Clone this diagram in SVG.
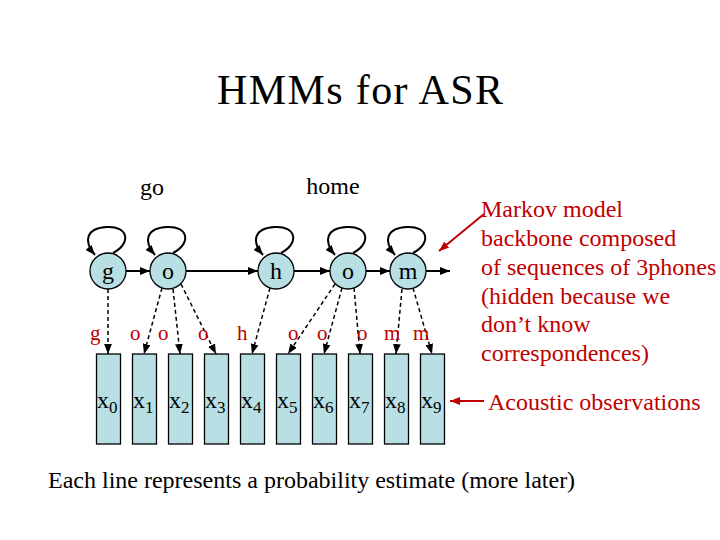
<svg xmlns="http://www.w3.org/2000/svg" width="720" height="540" viewBox="0 0 720 540">
<defs>
<style>
text{font-family:"Liberation Serif","Times New Roman",serif;}
.st{fill:#b8dfe3;stroke:#000;stroke-width:1.3;}
.ob{fill:#b8dfe3;stroke:#000;stroke-width:1.3;}
.lbl{font-size:24px;fill:#000;text-anchor:middle;}
.red{fill:#c00000;font-size:21px;}
.note{fill:#c00000;font-size:24px;}
.sol{fill:none;stroke:#000;stroke-width:2;marker-end:url(#ah);}
.dash{fill:none;stroke:#000;stroke-width:1.5;stroke-dasharray:4,3;marker-end:url(#ah);}
.rarr{fill:none;stroke:#c00000;stroke-width:2;marker-end:url(#rh);}
.x{font-size:24px;fill:#000;}
.sub{font-size:17px;}
</style>
<marker id="ah" markerUnits="userSpaceOnUse" markerWidth="10" markerHeight="8" viewBox="0 0 9 7" refX="9" refY="3.5" orient="auto"><path d="M0,0 L9,3.5 L0,7 z" fill="#000"/></marker>
<marker id="rh" markerUnits="userSpaceOnUse" markerWidth="10" markerHeight="8" viewBox="0 0 9 7" refX="9" refY="3.5" orient="auto"><path d="M0,0 L9,3.5 L0,7 z" fill="#c00000"/></marker>
<path id="loop" d="M5,-18 C24,-28 20,-45 -1,-44 C-22,-43 -25,-30 -13,-16"/>
</defs>
<rect width="720" height="540" fill="#fff"/>
<text x="360" y="104" font-size="42" text-anchor="middle" textLength="286" lengthAdjust="spacing">HMMs for ASR</text>
<text x="152" y="195" class="lbl">go</text>
<text x="333" y="194" class="lbl">home</text>

<g id="connectors">
<line class="sol" x1="126" y1="271" x2="150" y2="271"/>
<line class="sol" x1="186" y1="271" x2="258" y2="271"/>
<line class="sol" x1="294" y1="271" x2="330" y2="271"/>
<line class="sol" x1="366" y1="271" x2="390" y2="271"/>
<line class="sol" x1="426" y1="271" x2="450" y2="271"/>
<use href="#loop" class="sol" transform="translate(108,271)"/>
<use href="#loop" class="sol" transform="translate(168,271)"/>
<use href="#loop" class="sol" transform="translate(276,271)"/>
<use href="#loop" class="sol" transform="translate(348,271)"/>
<use href="#loop" class="sol" transform="translate(408,271)"/>
<line class="dash" x1="108" y1="289" x2="108" y2="354"/>
<line class="dash" x1="162" y1="288" x2="144" y2="354"/>
<line class="dash" x1="173" y1="289" x2="180" y2="354"/>
<line class="dash" x1="181" y1="284" x2="216" y2="354"/>
<line class="dash" x1="270" y1="288" x2="252" y2="354"/>
<line class="dash" x1="335" y1="284" x2="288" y2="354"/>
<line class="dash" x1="342" y1="288" x2="324" y2="354"/>
<line class="dash" x1="354" y1="288" x2="360" y2="354"/>
<line class="dash" x1="402" y1="289" x2="396" y2="354"/>
<line class="dash" x1="413" y1="288" x2="432" y2="354"/>
<line class="rarr" x1="484" y1="214" x2="439" y2="251"/>
<line class="rarr" x1="484" y1="401" x2="450" y2="401"/>
</g>

<g id="state-g"><circle class="st" cx="108" cy="271" r="18"/><text x="108" y="279" class="lbl">g</text></g>
<g id="state-o1"><circle class="st" cx="168" cy="271" r="18"/><text x="168" y="279" class="lbl">o</text></g>
<g id="state-h"><circle class="st" cx="276" cy="271" r="18"/><text x="276" y="279" class="lbl">h</text></g>
<g id="state-o2"><circle class="st" cx="348" cy="271" r="18"/><text x="348" y="279" class="lbl">o</text></g>
<g id="state-m"><circle class="st" cx="408" cy="271" r="18"/><text x="408" y="279" class="lbl">m</text></g>

<g id="phone-labels">
<text class="red" x="90" y="340">g</text>
<text class="red" x="130" y="340">o</text>
<text class="red" x="158" y="340">o</text>
<text class="red" x="198" y="340">o</text>
<text class="red" x="237" y="340">h</text>
<text class="red" x="288" y="340">o</text>
<text class="red" x="317" y="340">o</text>
<text class="red" x="357" y="340">o</text>
<text class="red" x="384" y="340">m</text>
<text class="red" x="413" y="340">m</text>
</g>

<g id="obs-x0"><rect class="ob" x="96.5" y="354" width="24" height="90"/><text class="x" x="97" y="408">x<tspan class="sub" dy="5">0</tspan></text></g>
<g id="obs-x1"><rect class="ob" x="132.5" y="354" width="24" height="90"/><text class="x" x="133" y="408">x<tspan class="sub" dy="5">1</tspan></text></g>
<g id="obs-x2"><rect class="ob" x="168.5" y="354" width="24" height="90"/><text class="x" x="169" y="408">x<tspan class="sub" dy="5">2</tspan></text></g>
<g id="obs-x3"><rect class="ob" x="204.5" y="354" width="24" height="90"/><text class="x" x="205" y="408">x<tspan class="sub" dy="5">3</tspan></text></g>
<g id="obs-x4"><rect class="ob" x="240.5" y="354" width="24" height="90"/><text class="x" x="241" y="408">x<tspan class="sub" dy="5">4</tspan></text></g>
<g id="obs-x5"><rect class="ob" x="276.5" y="354" width="24" height="90"/><text class="x" x="277" y="408">x<tspan class="sub" dy="5">5</tspan></text></g>
<g id="obs-x6"><rect class="ob" x="312.5" y="354" width="24" height="90"/><text class="x" x="313" y="408">x<tspan class="sub" dy="5">6</tspan></text></g>
<g id="obs-x7"><rect class="ob" x="348.5" y="354" width="24" height="90"/><text class="x" x="349" y="408">x<tspan class="sub" dy="5">7</tspan></text></g>
<g id="obs-x8"><rect class="ob" x="384.5" y="354" width="24" height="90"/><text class="x" x="385" y="408">x<tspan class="sub" dy="5">8</tspan></text></g>
<g id="obs-x9"><rect class="ob" x="420.5" y="354" width="24" height="90"/><text class="x" x="421" y="408">x<tspan class="sub" dy="5">9</tspan></text></g>

<g id="note-markov">
<text class="note" x="481" y="217">Markov model</text>
<text class="note" x="481" y="246">backbone composed</text>
<text class="note" x="481" y="275">of sequences of 3phones</text>
<text class="note" x="481" y="304">(hidden because we</text>
<text class="note" x="481" y="332">don’t know</text>
<text class="note" x="481" y="361">correspondences)</text>
</g>
<g id="note-acoustic"><text class="note" x="488" y="410">Acoustic observations</text></g>
<text x="48" y="488" font-size="24" fill="#000">Each line represents a probability estimate (more later)</text>
</svg>
